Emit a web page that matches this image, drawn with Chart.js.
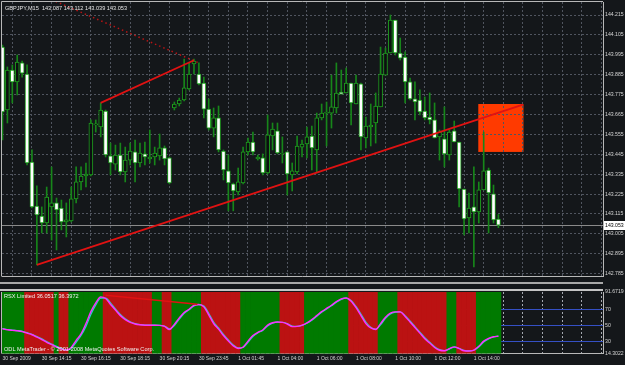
<!DOCTYPE html>
<html>
<head>
<meta charset="utf-8">
<script src="https://cdn.jsdelivr.net/npm/chart.js@4.4.0/dist/chart.umd.min.js"></script>
<style>
  body { margin: 0; background: #14171a; width: 625px; height: 365px; overflow: hidden; position: relative; }
  canvas { position: absolute; left: 0; }
  #main { top: 0; }
  #rsx { top: 277px; }
</style>
</head>
<body>
<canvas id="main" width="625" height="277"></canvas>
<canvas id="rsx" width="625" height="88"></canvas>
<script>
// GBPJPY M15 candles, one per bar index
const opens = [144.038,143.690,143.911,143.845,143.950,143.889,143.402,143.159,143.104,143.065,
  143.154,143.176,143.148,143.071,143.076,143.198,143.292,143.325,143.331,143.607,
  143.596,143.684,143.436,143.391,143.441,143.347,143.413,143.458,143.397,143.447,
  143.419,143.430,143.436,143.480,143.425,143.701,143.723,143.745,143.806,143.944,
  143.889,143.839,143.695,143.590,143.646,143.463,143.353,143.281,143.237,143.286,
  143.458,143.513,143.419,143.425,143.342,143.546,143.574,143.447,143.458,143.331,
  143.347,143.485,143.502,143.546,143.469,143.646,143.673,143.673,143.701,143.789,
  143.784,143.839,143.723,143.834,143.535,143.596,143.618,143.707,143.883,144.005,
  144.187,144.005,143.983,143.845,143.751,143.745,143.684,143.651,143.635,143.541,
  143.530,143.441,143.574,143.513,143.253,143.093,143.154,143.126,143.248,143.358,
  143.226,143.087];
const highs = [144.049,143.928,143.939,143.994,143.961,143.939,143.469,143.270,143.154,143.264,
  143.375,143.203,143.192,143.176,143.264,143.375,143.375,143.397,143.635,143.635,
  143.729,143.690,143.507,143.496,143.507,143.485,143.507,143.524,143.507,143.513,
  143.579,143.485,143.557,143.491,143.430,143.734,143.756,143.972,143.950,143.972,
  143.950,143.872,143.751,143.701,143.712,143.469,143.441,143.286,143.369,143.485,
  143.535,143.568,143.441,143.447,143.662,143.618,143.618,143.541,143.458,143.397,
  143.546,143.524,143.596,143.601,143.673,143.723,143.734,143.883,143.950,143.911,
  143.922,143.839,143.883,143.839,143.651,143.723,143.784,144.038,144.033,144.215,
  144.187,144.088,144.011,143.867,143.845,143.801,143.762,143.784,143.729,143.579,
  143.707,143.579,143.629,143.513,143.253,143.231,143.375,143.292,143.568,143.369,
  143.275,143.112];
const lows = [143.524,143.618,143.729,143.773,143.872,143.386,143.148,142.833,143.010,143.010,
  142.971,142.916,143.027,142.988,143.071,143.176,143.248,143.264,143.325,143.568,
  143.541,143.430,143.331,143.358,143.331,143.292,143.386,143.292,143.375,143.386,
  143.397,143.386,143.413,143.386,143.281,143.690,143.712,143.740,143.801,143.889,
  143.828,143.646,143.579,143.541,143.458,143.303,143.132,143.132,143.220,143.281,
  143.441,143.441,143.413,143.331,143.336,143.469,143.447,143.397,143.220,143.242,
  143.336,143.430,143.425,143.358,143.347,143.635,143.491,143.590,143.673,143.778,
  143.784,143.607,143.723,143.469,143.480,143.491,143.507,143.707,143.883,144.005,
  143.994,143.966,143.729,143.745,143.635,143.662,143.635,143.613,143.535,143.413,
  143.375,143.413,143.513,143.154,142.999,143.010,142.822,143.065,143.248,143.010,
  143.065,143.039];
const closes = [143.679,143.911,143.845,143.955,143.894,143.397,143.154,143.110,143.065,143.209,
  143.176,143.137,143.071,143.082,143.198,143.292,143.325,143.336,143.618,143.613,
  143.690,143.441,143.397,143.441,143.347,143.413,143.463,143.397,143.452,143.430,
  143.430,143.452,143.480,143.419,143.286,143.723,143.745,143.812,143.889,143.961,
  143.834,143.695,143.590,143.646,143.469,143.358,143.286,143.242,143.292,143.458,
  143.513,143.458,143.430,143.342,143.552,143.585,143.452,143.452,143.336,143.353,
  143.491,143.502,143.541,143.480,143.646,143.673,143.679,143.707,143.784,143.778,
  143.839,143.729,143.839,143.541,143.601,143.607,143.712,143.889,144.005,144.187,
  144.005,143.977,143.845,143.751,143.734,143.679,143.646,143.635,143.535,143.568,
  143.447,143.568,143.513,143.253,143.087,143.148,143.126,143.248,143.353,143.231,
  143.082,143.053];

// RSX indicator (two lines) and its up/down state per bar
const rsxMain = [45.5,44.2,43.5,43,42,40,38,35,32,28.5,25.5,22.5,20,18.8,22,31,39,52,67,78,
  85.4,83.5,76,69,62,57,53.5,51.5,50.5,50,50,50,49.8,48.5,44.5,51,59,66,70,75,
  76,73,63,52,45,37,30,24,20.8,22.5,30,37,41,44,50,53,54,53.5,51.5,48.2,
  48.5,50,53,57,62,67,71,75,79.5,83,84.2,80,72,62,52,46.5,44.6,52,60,65,
  66.7,66.7,61,54,47,40,33,27.5,22,18.5,17.9,20.5,22.8,20.5,17.8,17.5,18.8,23.5,30,33.5,
  35.5,36.0517];
const rsxSignal = [45.8,44.6,43.8,43.2,42.4,40.6,38.6,35.8,32.8,29.4,26.4,23.4,20.8,19.2,20.8,28.5,37,48.5,63.5,75.5,
  83.8,84,78,70.5,63.5,58,54.3,52,50.8,50.2,50,50,49.9,49,45.5,49.5,57.5,64.8,69.3,74.2,
  75.8,74,65,54,46.5,38.5,31.5,25.2,21.5,22,28.5,35.8,40.3,43.4,49,52.4,53.8,53.7,52,49,
  48.4,49.6,52.4,56.3,61.2,66.2,70.3,74.3,78.8,82.4,84,81,73.5,64,54,47.5,45,50.5,58.5,64,
  66.3,66.8,62,55.3,48.3,41.3,34.3,28.6,23,19.3,18,20,22.5,21,18.3,17.6,18.5,22.5,28.8,32.8,
  35.2,36.3972];
const rsxTrend = [1,1,1,1,1,-1,-1,-1,-1,-1,-1,1,-1,-1,1,1,1,1,1,1,
  1,-1,-1,-1,-1,-1,-1,-1,-1,-1,-1,1,1,-1,-1,1,1,1,1,1,
  1,-1,-1,-1,-1,-1,-1,-1,-1,1,1,1,1,1,1,1,1,-1,-1,-1,
  -1,-1,1,1,1,1,1,1,1,1,1,-1,-1,-1,-1,-1,-1,1,1,1,
  1,-1,-1,-1,-1,-1,-1,-1,-1,-1,-1,1,1,-1,-1,-1,-1,1,1,1,
  1,1];
const rsxLevels = [30, 50, 70];
const rsxRange = [14.3022, 91.6719];

// axes
const priceTicks = [142.785,142.895,143.005,143.115,143.225,143.335,143.445,
  143.555,143.665,143.775,143.885,143.995,144.105,144.215];
const timeLabels = ['30 Sep 2009','30 Sep 14:15','30 Sep 16:15','30 Sep 18:15','30 Sep 20:15',
  '30 Sep 23:45','1 Oct 01:45','1 Oct 04:00','1 Oct 06:00','1 Oct 08:00','1 Oct 10:00',
  '1 Oct 12:00','1 Oct 14:00'];

// drawn objects (bar index, price)
const trendLong = [{x: 7, y: 142.833}, {x: 106, y: 143.72}];
const trendShort = [{x: 20, y: 143.729}, {x: 39, y: 143.965}];
const trendDotted = [{x: 10, y: 144.30}, {x: 40, y: 143.95}];
const rsxLine = [{x: 21, y: 87.5}, {x: 39.7, y: 76.3}];
const box = {x0: 96.9, x1: 106.1, p0: 143.458, p1: 143.723};

const xMin = -0.1, xMax = 122.3;
const gridBars = [];
for (let i = 0; i <= 120; i += 4) gridBars.push(i);

const FONT = 'Liberation Sans';
const last = closes.length - 1;

const mainDecor = {
  id: 'mainDecor',
  beforeDraw(chart) {
    const {ctx, scales: {x, y}} = chart;
    const l = x.getPixelForValue(box.x0), r = x.getPixelForValue(box.x1);
    const t = y.getPixelForValue(box.p1), b = y.getPixelForValue(box.p0);
    ctx.save();
    ctx.fillStyle = '#ff3a00';
    ctx.fillRect(l, t, r - l, b - t);
    ctx.restore();
  },
  beforeDatasetsDraw(chart) {
    const {ctx, chartArea: a, scales: {y}} = chart;
    const py = Math.round(y.getPixelForValue(closes[last])) + 0.5;
    ctx.save();
    ctx.strokeStyle = '#8a8a8a';
    ctx.lineWidth = 1;
    ctx.beginPath(); ctx.moveTo(a.left, py); ctx.lineTo(a.right, py); ctx.stroke();
    ctx.restore();
  },
  afterDraw(chart) {
    const {ctx, chartArea: a, scales: {y}} = chart;
    ctx.save();
    ctx.strokeStyle = '#b8b8b8';
    ctx.lineWidth = 1;
    ctx.beginPath();
    ctx.moveTo(a.left - 0.5, a.bottom + 0.5); ctx.lineTo(a.left - 0.5, a.top - 0.5); ctx.lineTo(a.right, a.top - 0.5);
    ctx.moveTo(a.left, a.bottom + 0.5); ctx.lineTo(a.right, a.bottom + 0.5);
    ctx.stroke();
    // title
    ctx.fillStyle = '#e4e4e4';
    ctx.font = '5.6px ' + FONT;
    ctx.textBaseline = 'middle';
    ctx.fillText('GBPJPY,M15  ' + [opens[last], highs[last], lows[last], closes[last]].map(v => v.toFixed(3)).join(' '), 5, 8.5);
    // bid price box
    const py = Math.round(y.getPixelForValue(closes[last]));
    ctx.fillStyle = '#ffffff';
    ctx.fillRect(a.right + 1, py - 4, 21, 9);
    ctx.fillStyle = '#000000';
    ctx.font = '5.2px ' + FONT;
    ctx.fillText(closes[last].toFixed(3), a.right + 2, py + 0.5);
    ctx.restore();
  }
};

new Chart(document.getElementById('main'), {
  type: 'bar',
  data: {
    datasets: [
      {
        type: 'line', data: trendLong, borderColor: '#e01212', borderWidth: 1.8,
        pointRadius: 0, order: 0
      },
      {
        type: 'line', data: trendShort, borderColor: '#e01212', borderWidth: 1.8,
        pointRadius: 0, order: 0
      },
      {
        type: 'line', data: trendDotted, borderColor: '#b81414', borderWidth: 1.5,
        borderDash: [1.5, 3], pointRadius: 0, order: 0
      },
      {
        data: opens.map((o, i) => ({x: i, y: [o, closes[i]]})),
        backgroundColor: opens.map((o, i) => closes[i] >= o ? '#0c0e10' : '#ffffff'),
        borderColor: '#1e9e1e', borderWidth: 1, borderSkipped: false,
        barThickness: 4, grouped: false, order: 1
      },
      {
        data: lows.map((l, i) => ({x: i, y: [l, highs[i]]})),
        backgroundColor: '#17861a', barThickness: 1, grouped: false, order: 2
      }
    ]
  },
  options: {
    responsive: false,
    animation: false,
    events: [],
    layout: {padding: {left: 2, top: 2, right: 0, bottom: 1}},
    plugins: {legend: {display: false}, tooltip: {enabled: false}},
    scales: {
      x: {
        type: 'linear', min: xMin, max: xMax, offset: false,
        afterBuildTicks: s => { s.ticks = gridBars.map(v => ({value: v})); },
        afterFit: s => { s.height = 0; s.paddingLeft = 0; s.paddingRight = 0; },
        ticks: {display: false},
        grid: {color: '#50555f', drawTicks: false},
        border: {display: false, dash: [2, 2]}
      },
      y: {
        position: 'right', min: 142.772, max: 144.287,
        afterBuildTicks: s => { s.ticks = priceTicks.map(v => ({value: v})); },
        afterFit: s => { s.width = 22; s.paddingTop = 0; s.paddingBottom = 0; },
        ticks: {
          color: '#d4d4d4', padding: 2, font: {family: FONT, size: 5.2},
          callback: v => v.toFixed(3)
        },
        grid: {color: '#50555f', drawTicks: false},
        border: {display: true, color: '#b8b8b8', dash: [2, 2]}
      }
    }
  },
  plugins: [mainDecor]
});

const rsxDecor = {
  id: 'rsxDecor',
  afterDraw(chart) {
    const {ctx, chartArea: a} = chart;
    ctx.save();
    ctx.fillStyle = '#a8a8a8';
    ctx.fillRect(0, 5, a.right, 2);
    ctx.fillStyle = '#c4c4c4';
    ctx.fillRect(0, 12, a.right, 2);
    ctx.strokeStyle = '#b8b8b8';
    ctx.lineWidth = 1;
    ctx.beginPath();
    ctx.moveTo(a.left - 0.5, a.top); ctx.lineTo(a.left - 0.5, a.bottom);
    ctx.stroke();
    ctx.fillStyle = '#f0f0f0';
    ctx.font = '5.6px ' + FONT;
    ctx.textBaseline = 'middle';
    ctx.fillText('RSX Limited ' + rsxMain[last].toFixed(4) + ' ' + rsxSignal[last].toFixed(4), 4, a.top + 4);
    ctx.fillText('ODL MetaTrader - \u00a9 2001-2008 MetaQuotes Software Corp.', 4, a.bottom - 4);
    ctx.restore();
  }
};

const rsxAxisLabels = {91.6719: '91.6719', 70: '70', 50: '50', 30: '30', 14.3022: '14.3022'};

new Chart(document.getElementById('rsx'), {
  type: 'bar',
  data: {
    datasets: [
      {
        type: 'line', data: rsxLine, borderColor: '#e01212', borderWidth: 1.6,
        pointRadius: 0, order: 0
      },
      {
        type: 'line', data: rsxMain.map((v, i) => ({x: i, y: v})), borderColor: '#ff2eff',
        borderWidth: 1.4, pointRadius: 0, cubicInterpolationMode: 'monotone', order: 1
      },
      {
        type: 'line', data: rsxSignal.map((v, i) => ({x: i, y: v})), borderColor: '#2ccfcf',
        borderWidth: 1.2, pointRadius: 0, cubicInterpolationMode: 'monotone', order: 2
      },
      {
        data: rsxTrend.map((t, i) => ({x: i, y: rsxRange})),
        backgroundColor: rsxTrend.map(t => t > 0 ? '#007a00' : '#bb1212'),
        barThickness: 5, grouped: false, order: 5
      }
    ]
  },
  options: {
    responsive: false,
    animation: false,
    events: [],
    layout: {padding: {left: 2, top: 15, right: 0, bottom: 0}},
    plugins: {legend: {display: false}, tooltip: {enabled: false}},
    scales: {
      x: {
        type: 'linear', min: xMin, max: xMax, offset: false, z: 1,
        afterBuildTicks: s => { s.ticks = gridBars.map(v => ({value: v})); },
        afterFit: s => { s.height = 11.4; s.paddingLeft = 0; s.paddingRight = 0; },
        ticks: {
          color: '#d4d4d4', padding: 2.5, align: 'start', maxRotation: 0, autoSkip: false,
          font: {family: FONT, size: 5},
          callback: v => (v % 8 === 0 && timeLabels[v / 8]) || ''
        },
        grid: {color: '#a4a8b0', drawTicks: false},
        border: {display: true, color: '#b8b8b8', dash: [2, 2]}
      },
      y: {
        position: 'right', min: rsxRange[0], max: rsxRange[1], z: 1,
        afterBuildTicks: s => { s.ticks = [14.3022, 30, 50, 70, 91.6719].map(v => ({value: v})); },
        afterFit: s => { s.width = 22; s.paddingTop = 0; s.paddingBottom = 0; },
        ticks: {
          color: '#d4d4d4', padding: 2, font: {family: FONT, size: 5.2},
          callback: v => rsxAxisLabels[v]
        },
        grid: {
          color: c => rsxLevels.includes(c.tick && c.tick.value) ? '#3550c4' : 'rgba(0,0,0,0)',
          drawTicks: false
        },
        border: {display: true, color: '#b8b8b8'}
      }
    }
  },
  plugins: [rsxDecor]
});
</script>
</body>
</html>
